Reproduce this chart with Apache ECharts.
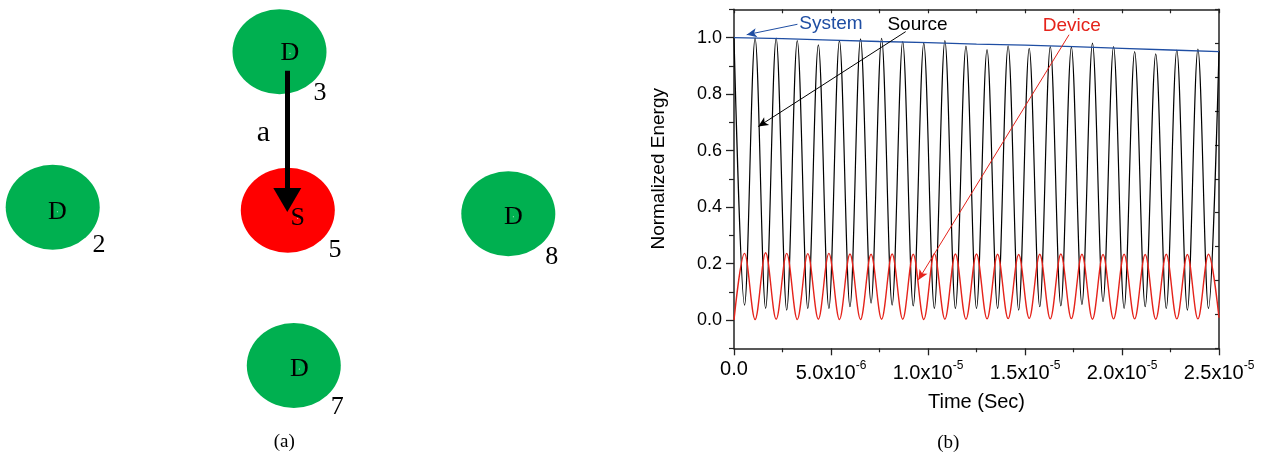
<!DOCTYPE html>
<html><head><meta charset="utf-8">
<script src="https://cdn.jsdelivr.net/npm/echarts@6/dist/echarts.min.js"></script>
<style>html,body{margin:0;padding:0;background:#fff}#c{width:1269px;height:454px}</style>
</head><body><div id="c"></div>
<script>
// ---------- panel (b) data ----------
// times (microseconds) of the successive extrema of the oscillation
const extremaTimesUs = [0,0.543,1.087,1.630,2.174,2.717,3.261,3.804,4.348,4.891,5.435,5.978,6.522,7.065,7.609,8.152,8.696,9.239,9.783,10.326,10.870,11.413,11.957,12.500,13.043,13.587,14.130,14.674,15.217,15.761,16.304,16.848,17.391,17.935,18.478,19.022,19.565,20.109,20.652,21.196,21.739,22.283,22.826,23.370,23.913,24.457,25.0];
const sourcePeaks = [1.0,0.998,0.998,0.989,0.974,0.989,0.995,0.997,0.986,0.98,0.989,0.97,0.957,0.971,0.962,0.968,0.966,0.98,0.968,0.95,0.942,0.956,0.959,0.953];
const sourceTroughs = [0.053,0.041,0.035,0.041,0.041,0.047,0.06,0.053,0.05,0.041,0.041,0.041,0.041,0.035,0.047,0.05,0.055,0.065,0.041,0.047,0.041,0.035,0.041];
const devicePeaks = [0.236,0.238,0.236,0.235,0.236,0.234,0.233,0.234,0.233,0.235,0.234,0.234,0.233,0.232,0.233,0.234,0.233,0.232,0.233,0.232,0.233,0.232,0.233];
const deviceTroughs = [0,0.002,0.003,0.002,0.003,0.002,0.002,0.003,0.003,0.002,0.003,0.003,0.004,0.005,0.006,0.004,0.005,0.003,0.004,0.004,0.003,0.004,0.004,0.008];
const systemTimesUs = [0,2.5,5,7.5,10,12.5,15,17.5,20,22.5,25];
const systemValues = [1.0,0.996,0.991,0.986,0.982,0.977,0.973,0.968,0.962,0.956,0.95];
const yLabelValues = [0,0.2,0.4,0.6,0.8,1.0];
const yMinorValues = [-0.1,0.1,0.3,0.5,0.7,0.9,1.1];
// annotations: [timeUs, value]
const annotNames = ['System','Source','Device'];
const annotTextAt = [[5.0,1.049],[9.46,1.045],[17.41,1.041]];
const annotArrowFrom = [[3.27,1.047],[8.85,1.021],[17.27,1.010]];
const annotArrowTo = [[0.655,1.010],[1.25,0.685],[9.5,0.142]];

// ---------- panel (a) data (diagram units) ----------
const nodeLetters = ['D','D','S','D','D'];
const nodeNumbers = ['2','3','5','8','7'];
const nodeX = [52.7,279.5,287.8,508.3,293.8];
const nodeY = [207.2,51.8,210.3,213.8,365.5];
const nodeColors = ['#00b050','#00b050','#ff0000','#00b050','#00b050'];
const letterX = [57.3,290,297.7,513.3,299.3];
const letterY = [211.7,53.3,218.3,216.7,369];
const numberX = [99,320,335,551.7,337.3];
const numberY = [245,93.3,250,256.7,406.7];
const linkFrom = [287.3,70.7];
const linkTo = [287.3,200];
const linkLabel = 'a';
const linkLabelAt = [263.3,133.3];

// ---------- build ----------
const US = 1e-6;
const sourceData = extremaTimesUs.map((t,k)=>[t*US, k%2===0 ? sourcePeaks[k/2] : sourceTroughs[(k-1)/2]]);
const deviceData = extremaTimesUs.map((t,k)=>[t*US, k%2===0 ? deviceTroughs[k/2] : devicePeaks[(k-1)/2]]);
const systemData = systemTimesUs.map((t,i)=>[t*US, systemValues[i]]);
const colors = {System:'#1f4ea3', Source:'#000000', Device:'#e5231b'};
const SANS = 'Liberation Sans';
const SERIF = 'Liberation Serif';
const AX = '#222';

function annot(i){
  const c = colors[annotNames[i]];
  return {
    markLine:{silent:true, animation:false, symbol:['none','arrow'], symbolSize:[7,10],
      label:{show:false}, lineStyle:{color:c,width:1,type:'solid'},
      emphasis:{disabled:true},
      data:[[{coord:[annotArrowFrom[i][0]*US, annotArrowFrom[i][1]]},{coord:[annotArrowTo[i][0]*US, annotArrowTo[i][1]]}]]},
    markPoint:{silent:true, animation:false, symbol:'circle', symbolSize:0,
      label:{show:true, position:'inside', formatter:annotNames[i], color:c, fontSize:19, fontFamily:SANS},
      data:[{coord:[annotTextAt[i][0]*US, annotTextAt[i][1]]}]}
  };
}

function xFmt(v){
  if (v === 0) return '{b|0.0}';
  const e = Math.floor(Math.log10(v) + 1e-9);
  const m = v / Math.pow(10, e);
  return '{b|' + m.toFixed(1) + 'x10}{s|' + e + '}';
}

const textSeries = (name, xs, ys, labels, size) => ({
  name, type:'scatter', xAxisIndex:2, yAxisIndex:3, silent:true,
  symbol:'circle', symbolSize:1, itemStyle:{color:'#fff', opacity:1},
  data: xs.map((x,i)=>({value:[x, ys[i]], name: labels[i]})),
  label:{show:true, position:'inside', formatter:p=>p.name, color:'#000', opacity:1, fontSize:size, fontFamily:SERIF},
  z:5
});

const option = {
  animation:false,
  backgroundColor:'#fff',
  grid:[
    {left:734, right:50, top:9.3, bottom:105.7},
    {left:0, top:0, width:600, height:454}
  ],
  xAxis:[
    {gridIndex:0, type:'value', min:0, max:2.5e-5, interval:5e-6, position:'bottom',
     axisLine:{onZero:false, lineStyle:{color:AX,width:1.5}},
     axisTick:{length:7, lineStyle:{color:AX,width:1.3}},
     minorTick:{show:true, splitNumber:2, length:4, lineStyle:{color:AX,width:1.2}},
     splitLine:{show:false},
     axisLabel:{margin:11, color:'#000', formatter:xFmt,
       rich:{b:{fontSize:20, fontFamily:SANS, color:'#000', verticalAlign:'bottom'},
             s:{fontSize:12, fontFamily:SANS, color:'#000', verticalAlign:'bottom', padding:[0,0,12,0]}}},
     name:'Time (Sec)', nameLocation:'middle', nameGap:44,
     nameTextStyle:{fontSize:20, fontFamily:SANS, color:'#000'}},
    {gridIndex:0, type:'value', min:0, max:2.5e-5, interval:2.5e-6, position:'top',
     axisLine:{onZero:false, lineStyle:{color:AX,width:1.5}},
     axisTick:{inside:true, length:4, lineStyle:{color:AX,width:1.2}},
     axisLabel:{show:false}, splitLine:{show:false}},
    {gridIndex:1, type:'value', min:0, max:600, show:false}
  ],
  yAxis:[
    {gridIndex:0, type:'value', min:-0.1, max:1.1, interval:0.1, position:'left',
     axisLine:{show:true, onZero:false, lineStyle:{color:AX,width:1.5}},
     axisTick:{show:true, length:8, customValues:yLabelValues, lineStyle:{color:AX,width:1.3}},
     axisLabel:{margin:12, customValues:yLabelValues, formatter:v=>v.toFixed(1), fontSize:18, fontFamily:SANS, color:'#000'},
     splitLine:{show:false},
     name:'Normalized Energy', nameLocation:'middle', nameGap:66,
     nameTextStyle:{fontSize:19, fontFamily:SANS, color:'#000', padding:[0,0,0,20]}},
    {gridIndex:0, type:'value', min:-0.1, max:1.1, interval:0.1, position:'left', offset:0,
     axisLine:{show:false},
     axisTick:{show:true, length:5, customValues:yMinorValues, lineStyle:{color:AX,width:1.2}},
     axisLabel:{show:false}, splitLine:{show:false}},
    {gridIndex:0, type:'value', min:0, max:10, interval:1, position:'right',
     axisLine:{show:true, onZero:false, lineStyle:{color:AX,width:1.5}},
     axisTick:{show:true, inside:true, length:4, lineStyle:{color:AX,width:1.2}},
     axisLabel:{show:false}, splitLine:{show:false}},
    {gridIndex:1, type:'value', min:0, max:454, inverse:true, show:false}
  ],
  graphic:[
    {type:'text', x:284.3, y:442.3, style:{text:'(a)', font:'19px "Liberation Serif"', fill:'#000', align:'center', verticalAlign:'middle'}},
    {type:'text', x:948.3, y:443.3, style:{text:'(b)', font:'19px "Liberation Serif"', fill:'#000', align:'center', verticalAlign:'middle'}}
  ],
  series:[
    Object.assign({name:'Source', type:'line', xAxisIndex:0, yAxisIndex:0, data:sourceData,
      smooth:0.35, smoothMonotone:'x', showSymbol:false, silent:true,
      lineStyle:{color:colors.Source, width:1.2}, z:2}, annot(1)),
    Object.assign({name:'Device', type:'line', xAxisIndex:0, yAxisIndex:0, data:deviceData,
      smooth:0.35, smoothMonotone:'x', showSymbol:false, silent:true,
      lineStyle:{color:colors.Device, width:1.4}, z:3}, annot(2)),
    Object.assign({name:'System', type:'line', xAxisIndex:0, yAxisIndex:0, data:systemData,
      showSymbol:false, silent:true,
      lineStyle:{color:colors.System, width:1.3}, z:4}, annot(0)),
    {name:'nodes', type:'scatter', xAxisIndex:2, yAxisIndex:3, silent:true,
     symbol:'circle', symbolSize:[94,85],
     data: nodeX.map((x,i)=>({value:[x,nodeY[i]], itemStyle:{color:nodeColors[i], opacity:1}})),
     markLine:{silent:true, animation:false, symbol:['none','triangle'], symbolSize:[28,24],
       label:{show:false}, lineStyle:{color:'#000', width:5, type:'solid', opacity:1},
       itemStyle:{opacity:1},
       data:[[{coord:linkFrom},{coord:linkTo}]]},
     z:2},
    textSeries('letters', letterX, letterY, nodeLetters, 26),
    textSeries('numbers', numberX, numberY, nodeNumbers, 26),
    textSeries('link', [linkLabelAt[0]], [linkLabelAt[1]], [linkLabel], 30)
  ]
};
echarts.init(document.getElementById('c')).setOption(option);
</script></body></html>
